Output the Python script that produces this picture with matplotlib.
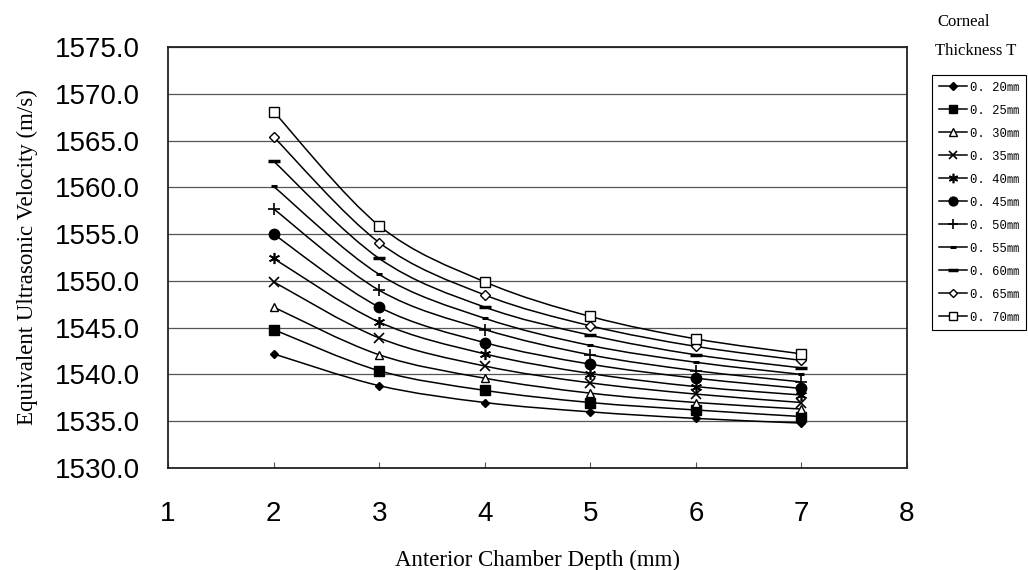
import numpy as np
import matplotlib
matplotlib.use("Agg")
import matplotlib.pyplot as plt
from matplotlib.lines import Line2D
from matplotlib.path import Path
from matplotlib.patches import PathPatch

# ---------------- data ----------------
depth = [2, 3, 4, 5, 6, 7]
thickness_labels = ["0. 20㎜", "0. 25㎜", "0. 30㎜", "0. 35㎜", "0. 40㎜", "0. 45㎜",
                    "0. 50㎜", "0. 55㎜", "0. 60㎜", "0. 65㎜", "0. 70㎜"]
v_020 = [1542.2, 1538.8, 1537.0, 1536.0, 1535.3, 1534.8]
v_025 = [1544.8, 1540.4, 1538.3, 1537.0, 1536.2, 1535.5]
v_030 = [1547.2, 1542.1, 1539.6, 1538.0, 1537.0, 1536.3]
v_035 = [1549.9, 1543.9, 1540.9, 1539.1, 1537.9, 1537.0]
v_040 = [1552.4, 1545.6, 1542.2, 1540.1, 1538.7, 1537.8]
v_045 = [1555.0, 1547.2, 1543.4, 1541.1, 1539.6, 1538.5]
v_050 = [1557.7, 1549.0, 1544.8, 1542.1, 1540.4, 1539.2]
v_055 = [1560.1, 1550.7, 1546.0, 1543.1, 1541.3, 1540.0]
v_060 = [1562.8, 1552.4, 1547.2, 1544.2, 1542.1, 1540.7]
v_065 = [1565.4, 1554.1, 1548.5, 1545.2, 1543.0, 1541.5]
v_070 = [1568.1, 1555.9, 1549.9, 1546.2, 1543.8, 1542.2]
series = [v_020, v_025, v_030, v_035, v_040, v_045, v_050, v_055, v_060, v_065, v_070]

x_ticks = [1, 2, 3, 4, 5, 6, 7, 8]
y_ticks = [1530, 1535, 1540, 1545, 1550, 1555, 1560, 1565, 1570, 1575]

# ---------------- styles ----------------
asterisk = (6, 2, 0)
styles = [
    dict(marker="D", ms=4.5, mfc="black"),
    dict(marker="s", ms=6.5, mfc="black"),
    dict(marker="^", ms=6, mfc="white"),
    dict(marker="x", ms=7, mfc="black", mew=1.2),
    dict(marker=asterisk, ms=8, mfc="black", mew=1.2),
    dict(marker="o", ms=7.5, mfc="black"),
    dict(marker="+", ms=9, mfc="black", mew=1.2),
    dict(marker="_", ms=5, mfc="black", mew=2.2),
    dict(marker="_", ms=8, mfc="black", mew=2.5),
    dict(marker="D", ms=5, mfc="white"),
    dict(marker="s", ms=7, mfc="white"),
]

fig = plt.figure(figsize=(10.28, 5.70), dpi=100)
ax = fig.add_axes([168 / 1028, 1 - 468 / 570, (907 - 168) / 1028, (468 - 47) / 570])
ax.set_xlim(1, 8)
ax.set_ylim(1530, 1575)

def smooth_path(xs, ys):
    # Excel-style smoothed line (Catmull-Rom Bezier) computed in display space
    pts = ax.transData.transform(np.column_stack([xs, ys]))
    n = len(pts)
    verts = [pts[0]]
    codes = [Path.MOVETO]
    for i in range(n - 1):
        p0 = pts[i - 1] if i > 0 else pts[i]
        p1 = pts[i]
        p2 = pts[i + 1]
        p3 = pts[i + 2] if i + 2 < n else pts[i + 1]
        c1 = p1 + (p2 - p0) / 6.0
        c2 = p2 - (p3 - p1) / 6.0
        verts += [c1, c2, p2]
        codes += [Path.CURVE4] * 3
    verts = ax.transData.inverted().transform(np.array(verts))
    return Path(verts, codes)

for vals, st in zip(series, styles):
    ax.add_patch(PathPatch(smooth_path(depth, vals), fill=False, edgecolor="black", lw=1.1, zorder=3))
    ax.plot(depth, vals, ls="none", marker=st["marker"], ms=st["ms"], mfc=st["mfc"],
            mec="black", mew=st.get("mew", 1.0), zorder=4)

ax.set_xticks(x_ticks)
ax.set_yticks(y_ticks)
ax.set_yticklabels([f"{v:.1f}" for v in y_ticks])
ax.set_xticklabels([str(v) for v in x_ticks])
for lab in ax.get_xticklabels() + ax.get_yticklabels():
    lab.set_fontfamily("Liberation Sans")
    lab.set_fontsize(20)
ax.tick_params(axis="x", direction="in", length=4, width=0.8, color="#555555", pad=24)
ax.tick_params(axis="y", length=0, pad=20)
ax.grid(axis="y", color="#555555", lw=0.9)
ax.set_axisbelow(True)
for sp in ax.spines.values():
    sp.set_color("#222222")
    sp.set_linewidth(1.3)

ax.set_xlabel("Anterior Chamber Depth (mm)", fontfamily="Liberation Serif", fontsize=16.5, labelpad=16)
ax.set_ylabel("Equivalent Ultrasonic Velocity (m/s)", fontfamily="Liberation Serif", fontsize=16.5, labelpad=12)

handles = [Line2D([0], [0], color="black", lw=1.1, marker=st["marker"], ms=st["ms"] * 0.85,
                  mfc=st["mfc"], mec="black", mew=st.get("mew", 1.0)) for st in styles]
leg = fig.legend(handles, thickness_labels, loc="upper left",
                 bbox_to_anchor=(932 / 1028, 1 - 75 / 570),
                 prop=dict(family=["Liberation Mono", "Noto Sans CJK JP"], size=8.8),
                 frameon=True, fancybox=False, edgecolor="black", framealpha=1,
                 handlelength=2.3, handletextpad=0.25, labelspacing=0.9,
                 borderpad=0.55, borderaxespad=0)
leg.get_frame().set_linewidth(0.8)

fig.text(964 / 1028, 1 - 22 / 570, "Corneal", ha="center", va="center",
         fontfamily="Liberation Serif", fontsize=12)
fig.text(976 / 1028, 1 - 51 / 570, "Thickness T", ha="center", va="center",
         fontfamily="Liberation Serif", fontsize=12)

fig.savefig("out.png", dpi=100)
